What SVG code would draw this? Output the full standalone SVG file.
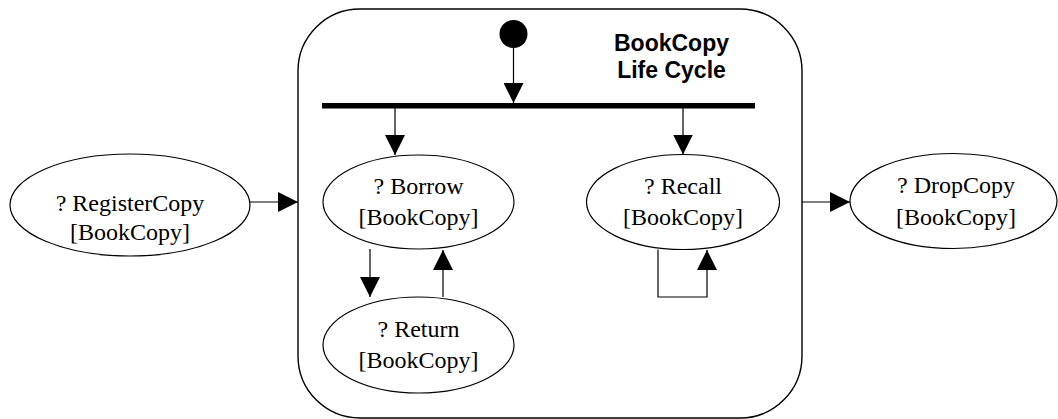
<svg xmlns="http://www.w3.org/2000/svg" width="1058" height="419" viewBox="0 0 1058 419">
<style>
.st{fill:#fff;stroke:#000;stroke-width:1.2}
.lbl{font-family:"Liberation Serif","Times New Roman",serif;font-size:24px;fill:#000;text-anchor:middle}
.ttl{font-family:"Liberation Sans",Arial,sans-serif;font-size:23px;font-weight:bold;fill:#000;text-anchor:middle}
.cn{fill:none;stroke:#000;stroke-width:1.2}
</style>
<defs>
<marker id="ah" markerWidth="20" markerHeight="20" refX="20" refY="10" orient="auto" markerUnits="userSpaceOnUse">
<path d="M0,0 L20,10 L0,20 Z" fill="#000"/>
</marker>
</defs>
<g id="lifecycle">
<rect x="298" y="9" width="504" height="409" rx="62" ry="62" fill="#fff" stroke="#000" stroke-width="1.4"/>
<text class="ttl" x="671.5" y="51">BookCopy</text>
<text class="ttl" x="671.5" y="78">Life Cycle</text>
</g>
<g id="initial">
<circle cx="513.5" cy="34" r="14" fill="#000"/>
</g>
<g id="fork">
<rect x="322" y="103" width="433" height="5.5" fill="#000"/>
</g>
<g id="registercopy">
<ellipse class="st" cx="130" cy="205" rx="120" ry="51"/>
<text class="lbl" x="130" y="211">? RegisterCopy</text>
<text class="lbl" x="130" y="240">[BookCopy]</text>
</g>
<g id="borrow">
<ellipse class="st" cx="418.5" cy="202" rx="95.5" ry="47"/>
<text class="lbl" x="418.5" y="194">? Borrow</text>
<text class="lbl" x="418.5" y="225">[BookCopy]</text>
</g>
<g id="return">
<ellipse class="st" cx="418.5" cy="345" rx="95.5" ry="48"/>
<text class="lbl" x="418.5" y="337">? Return</text>
<text class="lbl" x="418.5" y="368">[BookCopy]</text>
</g>
<g id="recall">
<ellipse class="st" cx="683" cy="202" rx="96.5" ry="47.5"/>
<text class="lbl" x="683" y="194">? Recall</text>
<text class="lbl" x="683" y="225">[BookCopy]</text>
</g>
<g id="dropcopy">
<ellipse class="st" cx="953.5" cy="201" rx="103.5" ry="47.5"/>
<text class="lbl" x="956" y="193">? DropCopy</text>
<text class="lbl" x="956" y="225">[BookCopy]</text>
</g>
<g id="connectors">
<line class="cn" x1="513.5" y1="48" x2="513.5" y2="103" marker-end="url(#ah)"/>
<line class="cn" x1="395" y1="108" x2="395" y2="155" marker-end="url(#ah)"/>
<line class="cn" x1="683" y1="108" x2="683" y2="154.5" marker-end="url(#ah)"/>
<line class="cn" x1="370" y1="249" x2="370" y2="297" marker-end="url(#ah)"/>
<line class="cn" x1="443" y1="297" x2="443" y2="250" marker-end="url(#ah)"/>
<polyline class="cn" points="658,249.5 658,297 707,297 707,250" marker-end="url(#ah)"/>
<line class="cn" x1="250" y1="202" x2="298" y2="202" marker-end="url(#ah)"/>
<line class="cn" x1="802" y1="202" x2="850" y2="202" marker-end="url(#ah)"/>
</g>
</svg>
